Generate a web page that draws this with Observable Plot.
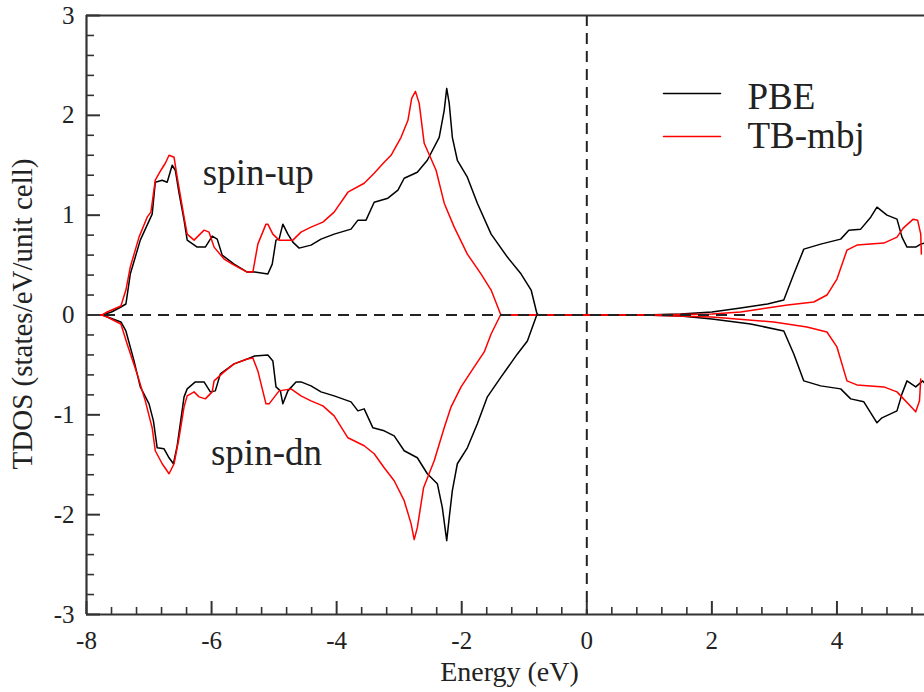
<!DOCTYPE html>
<html><head><meta charset="utf-8">
<script src="https://cdn.jsdelivr.net/npm/d3@7"></script>
<script src="https://cdn.jsdelivr.net/npm/@observablehq/plot@0.6"></script>
<style>html,body{margin:0;padding:0;background:#fff}</style>
</head><body><div id="chart"></div>
<script>
// Energy (eV), TDOS (states/eV/unit cell)
const pbeUp = [[-7.8,0],[-7.75,0],[-7.6,0.03],[-7.45,0.08],[-7.37,0.11],[-7.30,0.41],[-7.14,0.75],[-6.95,1.01],[-6.90,1.33],[-6.79,1.35],[-6.71,1.33],[-6.63,1.50],[-6.58,1.45],[-6.52,1.22],[-6.44,0.95],[-6.39,0.75],[-6.23,0.68],[-6.10,0.68],[-5.99,0.79],[-5.91,0.76],[-5.83,0.60],[-5.64,0.51],[-5.43,0.43],[-5.31,0.43],[-5.10,0.41],[-5.03,0.51],[-4.97,0.75],[-4.92,0.76],[-4.86,0.91],[-4.78,0.81],[-4.70,0.73],[-4.60,0.67],[-4.41,0.70],[-4.25,0.76],[-4.04,0.81],[-3.77,0.86],[-3.66,0.95],[-3.53,0.95],[-3.40,1.13],[-3.18,1.17],[-3.02,1.25],[-2.92,1.37],[-2.71,1.43],[-2.55,1.55],[-2.36,1.78],[-2.28,2.05],[-2.24,2.27],[-2.20,2.12],[-2.15,1.78],[-2.07,1.55],[-1.91,1.38],[-1.75,1.12],[-1.53,0.81],[-1.27,0.58],[-1.05,0.41],[-0.89,0.25],[-0.80,0.02],[-0.78,0],[0.9,0],[1.5,0.01],[2.0,0.03],[2.46,0.07],[2.89,0.11],[3.15,0.15],[3.31,0.41],[3.47,0.66],[3.74,0.71],[4.06,0.76],[4.19,0.85],[4.38,0.86],[4.54,0.98],[4.64,1.08],[4.80,1.00],[4.96,0.96],[5.04,0.78],[5.12,0.68],[5.26,0.68],[5.34,0.71],[5.4,0.72]];
const mbjUp = [[-7.8,0],[-7.75,0],[-7.67,0.03],[-7.45,0.09],[-7.37,0.25],[-7.30,0.48],[-7.16,0.78],[-7.03,0.98],[-6.97,1.03],[-6.90,1.35],[-6.81,1.45],[-6.74,1.52],[-6.68,1.60],[-6.60,1.58],[-6.55,1.38],[-6.44,0.98],[-6.39,0.81],[-6.28,0.75],[-6.12,0.85],[-6.04,0.83],[-5.96,0.68],[-5.80,0.56],[-5.64,0.50],[-5.43,0.43],[-5.34,0.43],[-5.26,0.71],[-5.13,0.91],[-5.10,0.91],[-5.02,0.81],[-4.92,0.75],[-4.70,0.75],[-4.57,0.83],[-4.41,0.88],[-4.22,0.93],[-4.04,1.03],[-3.82,1.23],[-3.56,1.32],[-3.40,1.42],[-3.24,1.53],[-3.13,1.60],[-2.97,1.78],[-2.86,1.95],[-2.80,2.17],[-2.74,2.24],[-2.68,2.12],[-2.60,1.72],[-2.41,1.45],[-2.28,1.12],[-2.12,0.88],[-1.91,0.61],[-1.69,0.41],[-1.53,0.25],[-1.38,0.01],[-1.36,0],[0.9,0],[2.0,0.01],[2.46,0.03],[3.21,0.10],[3.63,0.13],[3.84,0.20],[4.00,0.36],[4.16,0.65],[4.32,0.70],[4.75,0.72],[4.96,0.78],[5.06,0.87],[5.22,0.96],[5.29,0.95],[5.34,0.81],[5.35,0.61]];
const pbeDn = [[-7.8,0],[-7.75,0],[-7.45,-0.07],[-7.37,-0.16],[-7.24,-0.46],[-7.14,-0.72],[-7.00,-0.89],[-6.93,-1.06],[-6.87,-1.33],[-6.76,-1.34],[-6.68,-1.43],[-6.61,-1.49],[-6.55,-1.31],[-6.44,-0.82],[-6.39,-0.74],[-6.26,-0.67],[-6.12,-0.67],[-6.02,-0.77],[-5.94,-0.76],[-5.86,-0.59],[-5.64,-0.49],[-5.43,-0.44],[-5.31,-0.41],[-5.10,-0.40],[-5.02,-0.46],[-4.97,-0.72],[-4.90,-0.76],[-4.86,-0.89],[-4.78,-0.76],[-4.65,-0.67],[-4.57,-0.67],[-4.41,-0.71],[-4.25,-0.77],[-4.04,-0.81],[-3.77,-0.87],[-3.66,-0.96],[-3.56,-0.94],[-3.42,-1.13],[-3.24,-1.16],[-3.08,-1.21],[-2.92,-1.36],[-2.71,-1.43],[-2.55,-1.59],[-2.39,-1.69],[-2.31,-1.93],[-2.24,-2.26],[-2.20,-2.03],[-2.15,-1.76],[-2.07,-1.49],[-1.91,-1.33],[-1.75,-1.09],[-1.59,-0.82],[-1.37,-0.62],[-1.11,-0.39],[-0.95,-0.26],[-0.80,0],[0.9,0],[1.5,-0.01],[2.0,-0.04],[2.62,-0.09],[3.15,-0.16],[3.31,-0.39],[3.47,-0.66],[3.74,-0.71],[4.06,-0.74],[4.22,-0.84],[4.43,-0.87],[4.64,-1.08],[4.72,-1.03],[4.96,-0.96],[5.04,-0.79],[5.12,-0.66],[5.26,-0.72],[5.37,-0.66],[5.4,-0.68]];
const mbjDn = [[-7.8,0],[-7.75,0],[-7.67,-0.02],[-7.45,-0.09],[-7.35,-0.29],[-7.19,-0.59],[-7.06,-0.86],[-6.95,-1.13],[-6.90,-1.36],[-6.79,-1.49],[-6.68,-1.59],[-6.60,-1.49],[-6.52,-1.23],[-6.44,-0.92],[-6.39,-0.81],[-6.28,-0.77],[-6.20,-0.82],[-6.10,-0.84],[-5.99,-0.77],[-5.96,-0.66],[-5.80,-0.57],[-5.64,-0.49],[-5.43,-0.44],[-5.34,-0.43],[-5.26,-0.56],[-5.13,-0.89],[-5.08,-0.89],[-4.92,-0.76],[-4.73,-0.74],[-4.57,-0.81],[-4.41,-0.86],[-4.22,-0.91],[-4.04,-1.01],[-3.82,-1.23],[-3.56,-1.31],[-3.40,-1.39],[-3.24,-1.53],[-3.08,-1.66],[-2.92,-1.86],[-2.81,-2.09],[-2.76,-2.25],[-2.71,-2.13],[-2.61,-1.73],[-2.44,-1.46],[-2.28,-1.13],[-2.17,-0.92],[-2.01,-0.72],[-1.80,-0.52],[-1.64,-0.37],[-1.53,-0.19],[-1.38,0],[0.9,0],[2.0,-0.02],[2.99,-0.07],[3.52,-0.12],[3.84,-0.17],[4.00,-0.32],[4.16,-0.66],[4.32,-0.70],[4.75,-0.72],[4.96,-0.77],[5.26,-0.97],[5.32,-0.86],[5.34,-0.64]];

const methods = ["PBE", "TB-mbj"];
const methodColors = ["#000000", "#ff0000"];
const xMajor = [-8, -6, -4, -2, 0, 2, 4];
const xMinor = [-7.6,-7.2,-6.8,-6.4,-5.6,-5.2,-4.8,-4.4,-3.6,-3.2,-2.8,-2.4,-1.6,-1.2,-0.8,-0.4,0.4,0.8,1.2,1.6,2.4,2.8,3.2,3.6,4.4,4.8,5.2];
const yMajor = [-3, -2, -1, 0, 1, 2, 3];
const yMinor = [-2.8,-2.6,-2.4,-2.2,-1.8,-1.6,-1.4,-1.2,-0.8,-0.6,-0.4,-0.2,0.2,0.4,0.6,0.8,1.2,1.4,1.6,1.8,2.2,2.4,2.6,2.8];
const annotations = [{label: "spin-up", e: -6.14, dos: 1.30}, {label: "spin-dn", e: -6.01, dos: -1.50}];

const series = [
  {method: "PBE", spin: "up", pts: pbeUp},
  {method: "PBE", spin: "dn", pts: pbeDn},
  {method: "TB-mbj", spin: "up", pts: mbjUp},
  {method: "TB-mbj", spin: "dn", pts: mbjDn}
];
const rows = series.flatMap(s => s.pts.map(([e, dos]) => ({e, dos, method: s.method, key: s.method + "-" + s.spin})));

const font = "Liberation Serif";
const ink = "#222";
const lineShape = {draw(ctx, l) { ctx.moveTo(0, 0); ctx.lineTo(0, -l); }};
const fmt = d => String(d).replace("−", "-");

const chart = Plot.plot({
  width: 924, height: 692,
  marginLeft: 86, marginRight: 0, marginTop: 15, marginBottom: 78,
  style: {fontFamily: font, background: "#fff", color: ink, overflow: "visible"},
  x: {domain: [-8, 5.4]},
  y: {domain: [-3, 3]},
  color: {domain: methods, range: methodColors},
  marks: [
    ...methods.map(m => Plot.line(rows.filter(r => r.method === m), {x: "e", y: "dos", z: "key", stroke: "method", strokeWidth: 1.5, curve: "linear"})),
    Plot.ruleY([0], {stroke: ink, strokeWidth: 2, strokeDasharray: "11,7"}),
    Plot.ruleX([0], {stroke: ink, strokeWidth: 2, strokeDasharray: "11,7"}),
    Plot.ruleX([-8], {stroke: "#333", strokeWidth: 2.2}),
    Plot.ruleY([-3, 3], {stroke: "#333", strokeWidth: 2.2}),
    // inward ticks
    Plot.axisX({ticks: xMajor, tickSize: -13, tickFormat: () => "", stroke: "#333", strokeWidth: 2, label: null}),
    Plot.axisX({ticks: xMinor, tickSize: -7, tickFormat: () => "", stroke: "#333", strokeWidth: 1.6, label: null}),
    Plot.axisY({ticks: yMajor, tickSize: -14, tickFormat: () => "", stroke: "#333", strokeWidth: 2, label: null}),
    Plot.axisY({ticks: yMinor, tickSize: -8, tickFormat: () => "", stroke: "#333", strokeWidth: 1.6, label: null}),
    // tick labels
    Plot.axisX({ticks: xMajor, tickSize: 0, tickPadding: 17, fontSize: 25, fontFamily: font, fill: ink, label: null, tickFormat: fmt}),
    Plot.axisY({ticks: yMajor, tickSize: 0, tickPadding: 12, fontSize: 25, fontFamily: font, fill: ink, label: null, tickFormat: fmt}),
    // axis titles
    Plot.text(["Energy (eV)"], {frameAnchor: "bottom", dx: 4, dy: 66, lineAnchor: "bottom", textAnchor: "middle", fontSize: 28, fontFamily: font, fill: ink}),
    Plot.text(["TDOS (states/eV/unit cell)"], {frameAnchor: "left", dx: -64, dy: -1, rotate: -90, lineAnchor: "middle", textAnchor: "middle", fontSize: 29, fontFamily: font, fill: ink}),
    // annotations
    Plot.text(annotations, {x: "e", y: "dos", text: "label", textAnchor: "start", lineAnchor: "bottom", fontSize: 37, fontFamily: font, fill: ink}),
    // legend
    ...methods.map((m, i) => Plot.vector([m], {frameAnchor: "top-right", dx: -261, dy: 78 + i * 43, length: 57, rotate: 90, anchor: "start", shape: lineShape, stroke: methodColors[i], strokeWidth: 1.5})),
    ...methods.map((m, i) => Plot.text([m], {frameAnchor: "top-right", dx: -177, dy: 93 + i * 39, textAnchor: "start", lineAnchor: "bottom", fontSize: 37, fontFamily: font, fill: ink}))
  ]
});
d3.select(chart).selectAll("text").attr("font-family", font).style("font-family", font);
document.getElementById("chart").appendChild(chart);
</script>
</body></html>
